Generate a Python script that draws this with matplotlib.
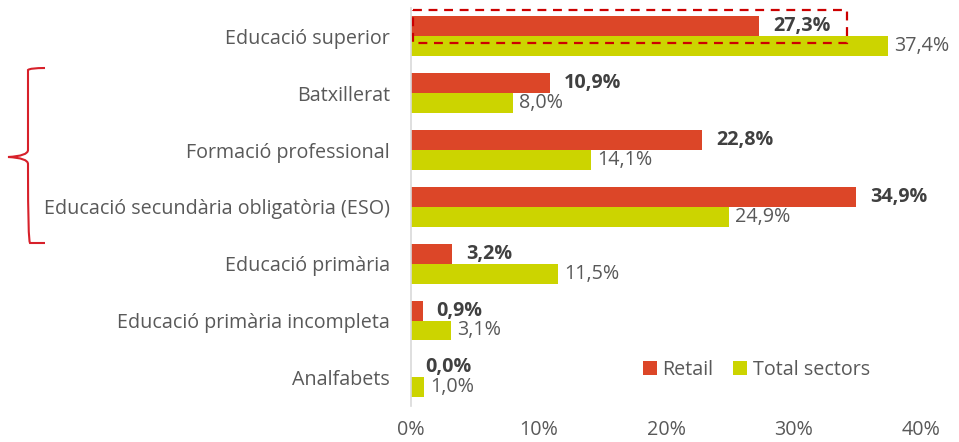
import numpy as np
import matplotlib.pyplot as plt
from matplotlib.patches import Rectangle, PathPatch
from matplotlib.path import Path

plt.rcParams['font.family'] = ['Open Sans', 'DejaVu Sans']

categories = ['Educació superior', 'Batxillerat', 'Formació professional',
              'Educació secundària obligatòria (ESO)', 'Educació primària',
              'Educació primària incompleta', 'Analfabets']
retail = [27.3, 10.9, 22.8, 34.9, 3.2, 0.9, 0.0]
total = [37.4, 8.0, 14.1, 24.9, 11.5, 3.1, 1.0]
xticks = [0, 10, 20, 30, 40]

red = '#DC4628'
green = '#CCD400'
grey = '#595959'
fs = 14.2

fig = plt.figure(figsize=(9.59, 4.42), dpi=100)
ax = fig.add_axes([0.4286, 0.082, 0.532, 0.9])

y = np.arange(len(categories))
h = 0.35
ax.barh(y - h/2, retail, height=h, color=red, label='Retail')
ax.barh(y + h/2, total, height=h, color=green, label='Total sectors')

for i in range(len(categories)):
    ax.text(retail[i] + 1.1, y[i] - h/2, f'{retail[i]:.1f}%'.replace('.', ','),
            va='center', ha='left', fontsize=fs, fontweight='bold', color='#404040')
    ax.text(total[i] + 0.5, y[i] + h/2, f'{total[i]:.1f}%'.replace('.', ','),
            va='center', ha='left', fontsize=fs, color=grey)

ax.set_ylim(len(categories) - 0.5, -0.5)
ax.set_xlim(0, 40)
ax.set_yticks(y)
ax.set_yticklabels(categories, fontsize=fs, color=grey)
ax.set_xticks(xticks)
ax.set_xticklabels([f'{t}%' for t in xticks], fontsize=fs, color=grey)
ax.tick_params(length=0)
ax.tick_params(axis='x', pad=10)
ax.tick_params(axis='y', pad=15)
for s in ['top', 'right', 'bottom']:
    ax.spines[s].set_visible(False)
ax.spines['left'].set_color('#D9D9D9')
ax.spines['left'].set_linewidth(1.2)

ax.legend(loc='lower right', bbox_to_anchor=(0.935, 0.02), ncol=2, frameon=False,
          fontsize=fs, labelcolor=grey, handlelength=0.7, handleheight=0.7,
          handletextpad=0.3, columnspacing=1.0)

# dashed highlight around Educació superior / Retail
ax.add_patch(Rectangle((0.15, -0.46), 34.0, 0.58, fill=False, edgecolor='#CC0000',
                       linestyle=(0, (4, 3)), linewidth=1.6, clip_on=False))

# curly brace on the left
ov = fig.add_axes([0, 0, 1, 1], facecolor='none')
ov.set_xlim(0, 959)
ov.set_ylim(442, 0)
ov.axis('off')
verts = [(45, 68), (30, 68), (28, 70), (28, 80),
         (28, 150), (28, 156), (8, 157),
         (28, 158), (28, 164), (28, 170),
         (28, 241), (30, 243), (45, 243)]
codes = [Path.MOVETO, Path.CURVE3, Path.CURVE3, Path.LINETO,
         Path.LINETO, Path.CURVE3, Path.CURVE3,
         Path.CURVE3, Path.CURVE3, Path.LINETO,
         Path.CURVE3, Path.CURVE3, Path.LINETO]
ov.add_patch(PathPatch(Path(verts, codes), fill=False, edgecolor='#D7202A', linewidth=1.5))

fig.savefig('out.png', dpi=100)
